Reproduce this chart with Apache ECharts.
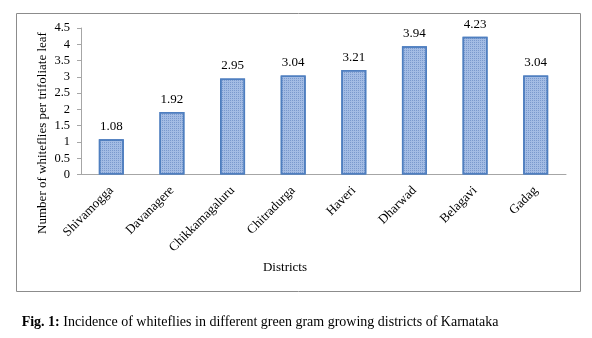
<!DOCTYPE html>
<html><head><meta charset="utf-8">
<script src="https://cdn.jsdelivr.net/npm/echarts@6/dist/echarts.min.js"></script>
<style>html,body{margin:0;padding:0;background:#fff}#c{width:592px;height:338px}</style>
</head><body><div id="c"></div>
<script>
const categories = ['Shivamogga','Davanagere','Chikkamagaluru','Chitradurga','Haveri','Dharwad','Belagavi','Gadag'];
const values = [1.08, 1.92, 2.95, 3.04, 3.21, 3.94, 4.23, 3.04];
const yTicks = {min: 0, max: 4.5, interval: 0.5};
const font = 'Liberation Serif, Times New Roman, serif';
const chart = echarts.init(document.getElementById('c'));
chart.setOption({
  animation: false,
  grid: {left: 81, right: 26, top: 28, bottom: 163.5, containLabel: false},
  xAxis: {
    type: 'category', data: categories,
    axisLine: {lineStyle: {color: '#a6a6a6', width: 1}},
    axisTick: {show: false},
    axisLabel: {rotate: 45, color: '#000', fontFamily: font, fontSize: 13, margin: 14, interval: 0}
  },
  yAxis: {
    type: 'value', min: yTicks.min, max: yTicks.max, interval: yTicks.interval,
    axisLine: {show: true, lineStyle: {color: '#a6a6a6'}},
    axisTick: {show: true, length: 4, lineStyle: {color: '#a6a6a6'}},
    splitLine: {show: false},
    axisLabel: {color: '#000', fontFamily: font, fontSize: 12.5, margin: 11}
  },
  graphic: [
    {type: 'rect', shape: {x: 16.5, y: 13.5, width: 564, height: 278}, style: {fill: 'none', stroke: '#8c8c8c', lineWidth: 1}, z: -1},
    {type: 'text', x: 43, y: 133, rotation: Math.PI/2, style: {text: 'Number of whiteflies per trifoliate leaf', fill: '#000', font: '13px ' + font, textAlign: 'center', textVerticalAlign: 'middle'}},
    {type: 'text', x: 285, y: 268, style: {text: 'Districts', fill: '#000', font: '13px ' + font, textAlign: 'center', textVerticalAlign: 'middle'}},
    {type: 'text', x: 260, y: 322, style: {rich: {b: {fontWeight: 'bold', fontFamily: font, fontSize: 14, fill: '#000'}, n: {fontFamily: font, fontSize: 14, fill: '#000'}}, text: '{b|Fig. 1:}{n| Incidence of whiteflies in different green gram growing districts of Karnataka}', textAlign: 'center', textVerticalAlign: 'middle'}}
  ],
  series: [{
    type: 'bar', data: values, barWidth: 25,
    itemStyle: {
      color: '#a3bce4', borderColor: '#4f7fc0', borderWidth: 1.5,
      decal: {symbol: 'rect', symbolSize: 1, color: 'rgba(60,100,170,0.4)', dashArrayX: [1, 1], dashArrayY: [1, 1]}
    },
    label: {show: true, position: 'top', distance: 6, color: '#000', fontFamily: font, fontSize: 13}
  }]
});
</script></body></html>
